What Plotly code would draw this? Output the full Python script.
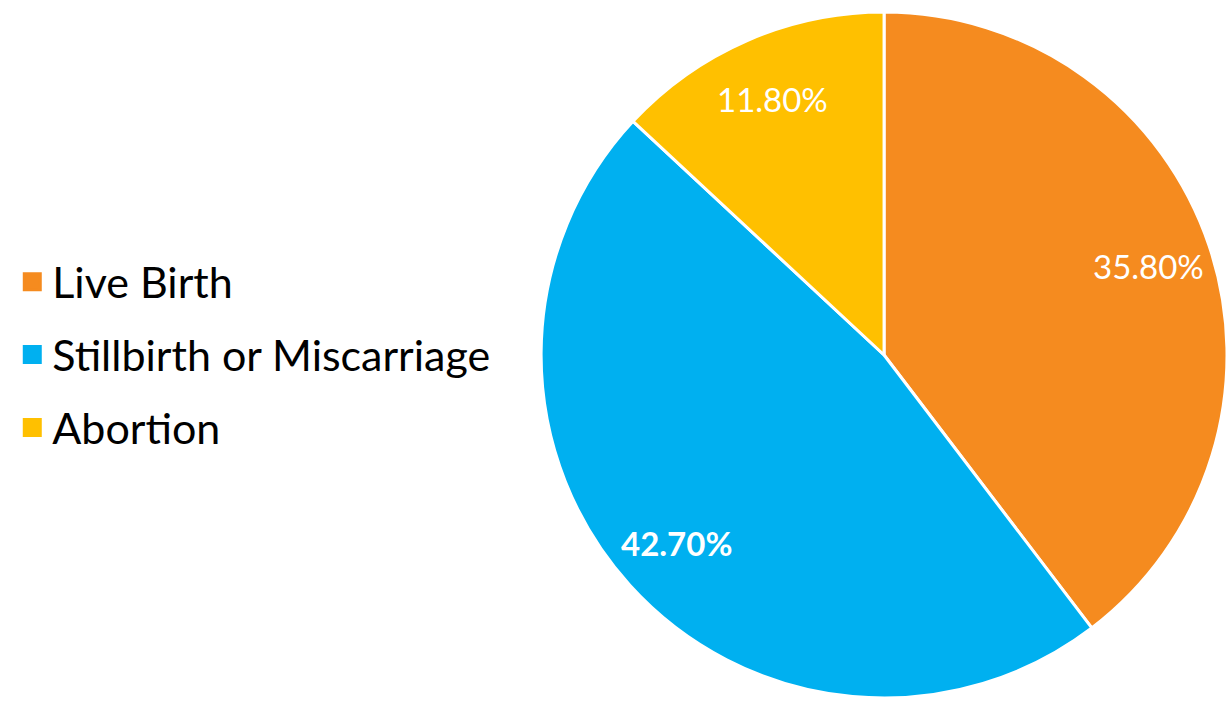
import math
import plotly.graph_objects as go

categories = ["Live Birth", "Stillbirth or Miscarriage", "Abortion"]
values = [35.8, 42.7, 11.8]
labels_text = ["35.80%", "<b>42.70%</b>", "11.80%"]
colors = ["#F58B1F", "#00B0F0", "#FFC000"]

W, H = 1227, 701
dom_x = [0.441, 1.0]
dom_y = [0.0014, 0.9857]

fig = go.Figure()
fig.add_trace(go.Pie(
    labels=categories,
    values=values,
    textinfo="none",
    sort=False,
    direction="clockwise",
    rotation=0,
    marker=dict(colors=colors, line=dict(color="white", width=3)),
    domain=dict(x=dom_x, y=dom_y),
    hoverinfo="label+percent",
    showlegend=False,
))

# legend entries (one per category)
for name, col in zip(categories, colors):
    fig.add_trace(go.Scatter(
        x=[None], y=[None], mode="markers", name=name, legendgroup=name,
        marker=dict(symbol="square", size=16, color=col, line=dict(color=col, width=3)),
        showlegend=True, hoverinfo="skip",
    ))

# inside labels placed along each slice's bisector
wpx = (dom_x[1] - dom_x[0]) * W
hpx = (dom_y[1] - dom_y[0]) * H
r = min(wpx, hpx) / 2
cx = (dom_x[0] + dom_x[1]) / 2 * W
cy = (1 - (dom_y[0] + dom_y[1]) / 2) * H
total = sum(values)
cum = 0.0
annotations = []
for v, t in zip(values, labels_text):
    mid = (cum + v / 2) / total * 2 * math.pi
    cum += v
    px = cx + 0.815 * r * math.sin(mid)
    py = cy - 0.815 * r * math.cos(mid)
    annotations.append(dict(
        x=px / W, y=1 - py / H, xref="paper", yref="paper",
        text=t, showarrow=False, xanchor="center", yanchor="middle",
        font=dict(family="Lato", size=33, color="white"),
    ))

fig.update_layout(
    width=W, height=H,
    margin=dict(l=0, r=0, t=0, b=0, autoexpand=False),
    paper_bgcolor="white",
    plot_bgcolor="white",
    showlegend=True,
    xaxis=dict(visible=False),
    yaxis=dict(visible=False),
    annotations=annotations,
    legend=dict(
        x=0.01, y=0.494, xanchor="left", yanchor="middle",
        font=dict(family="Lato", size=43, color="black"),
        bgcolor="rgba(0,0,0,0)",
        tracegroupgap=14,
        itemclick=False, itemdoubleclick=False,
    ),
)

fig.write_html(
    "out.html",
    config={"displayModeBar": False},
    post_script="document.body.style.margin='0';document.body.style.overflow='hidden';",
)
